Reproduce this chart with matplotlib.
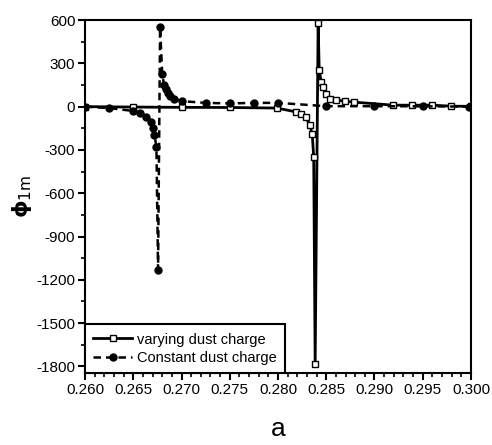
import numpy as np
import matplotlib
matplotlib.use("Agg")
import matplotlib.pyplot as plt
from matplotlib import font_manager
from matplotlib.ticker import MultipleLocator

# Werte
x_varying = [0.2600, 0.2650, 0.2700, 0.2750, 0.2799, 0.2819, 0.2824, 0.2829,
             0.2833, 0.28355, 0.2837, 0.28385, 0.28416, 0.28427, 0.28448, 0.28468,
             0.28499, 0.28541, 0.28603, 0.28696, 0.28790, 0.29194, 0.29391,
             0.29599, 0.29796, 0.3000]
y_varying = [0, -3, -5, -6, -10, -37, -54, -75, -128, -193, -350, -1780, 578,
             253, 170, 135, 87, 52, 45, 38, 31, 10, 10, 10, 3, 2]

x_constant = [0.2600, 0.2625, 0.2650, 0.2657, 0.2663, 0.2668, 0.2670, 0.2672,
              0.2674, 0.26757, 0.26778, 0.2680, 0.2682, 0.2684, 0.2686, 0.2688,
              0.2692, 0.2700, 0.2725, 0.2750, 0.2775, 0.2800, 0.2850, 0.2899,
              0.2950, 0.2998]
y_constant = [0, -10, -30, -45, -70, -105, -150, -195, -280, -1130, 550, 225,
              150, 120, 95, 75, 55, 38, 26, 22, 26, 26, 3, 3, 2, 0]

xticks = [0.260, 0.265, 0.270, 0.275, 0.280, 0.285, 0.290, 0.295, 0.300]
yticks = [600, 300, 0, -300, -600, -900, -1200, -1500, -1800]

# schmale Schrift, falls vorhanden
names = {f.name for f in font_manager.fontManager.ttflist}
if "Liberation Sans Narrow" in names:
    tick_font = dict(fontfamily="Liberation Sans Narrow", fontsize=12)
    leg_font = {"family": "Liberation Sans Narrow", "size": 11}
else:
    tick_font = dict(fontfamily="Liberation Sans", fontsize=11)
    leg_font = {"family": "Liberation Sans", "size": 10.5}

fig = plt.figure(figsize=(4.92, 4.45), dpi=100)
ax = fig.add_axes([0.1728, 0.162, 0.7845, 0.793])

ax.plot(x_varying, y_varying, color="black", lw=2.0, marker="s", ms=5,
        mfc="white", mec="black", mew=1.0, label="varying dust charge")
ax.plot(x_constant, y_constant, color="black", lw=1.8, ls=(0, (3, 2)),
        marker="o", ms=5, mfc="black", mec="black",
        label="Constant dust charge")

ax.set_xlim(0.260, 0.300)
ax.set_ylim(-1845, 600)
ax.set_xticks(xticks)
ax.set_yticks(yticks)
ax.set_xticklabels([f"{v:.3f}" for v in xticks], **tick_font)
ax.set_yticklabels([str(v) for v in yticks], **tick_font)
ax.xaxis.set_minor_locator(MultipleLocator(0.001))
ax.yaxis.set_minor_locator(MultipleLocator(150))
ax.tick_params(which="major", direction="out", length=5, width=1.5, pad=2,
               top=False, right=False)
ax.tick_params(which="minor", direction="out", length=3, width=1.2,
               top=False, right=False)
for s in ax.spines.values():
    s.set_linewidth(1.5)

ax.set_ylabel(r"$\mathbf{\phi}_{\mathrm{1m}}$", fontsize=16, labelpad=2)
ax.set_xlabel("a", fontsize=19, fontfamily="Liberation Sans", labelpad=15)

leg = ax.legend(loc="lower left", borderaxespad=0, fancybox=False,
                edgecolor="black", framealpha=1, handlelength=2.7,
                prop=leg_font, labelspacing=0.3,
                borderpad=0.55, handletextpad=0.3)
leg.get_frame().set_linewidth(1.5)

fig.savefig("out.png", dpi=100)
